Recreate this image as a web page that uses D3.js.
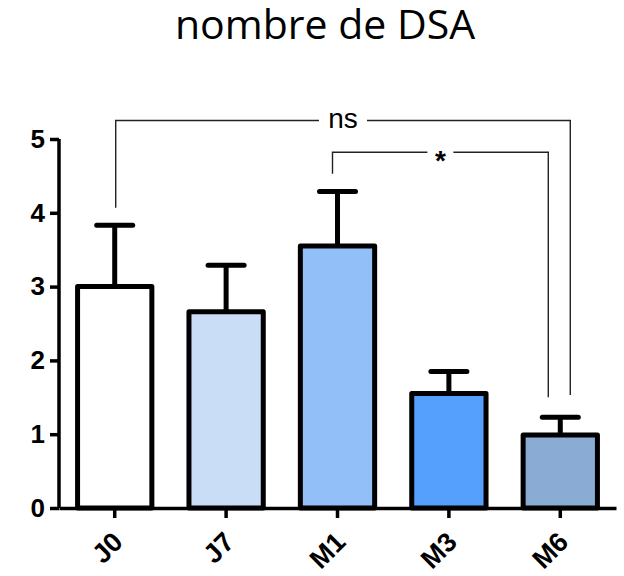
<!DOCTYPE html>
<html>
<head>
<meta charset="utf-8">
<script src="https://cdn.jsdelivr.net/npm/d3@7"></script>
<style>
  body { margin: 0; background: #fff; }
  svg { display: block; }
</style>
</head>
<body>
<div id="chart"></div>
<script>
// DATA
const groups = ["J0", "J7", "M1", "M3", "M6"];
const means = [3.0, 2.66, 3.55, 1.55, 0.99];
const errs = [0.83, 0.63, 0.74, 0.30, 0.24];
const colors = ["#ffffff", "#c9ddf6", "#92bff8", "#55a0fd", "#8aacd4"];
const yTicks = [0, 1, 2, 3, 4, 5];

// comparisons: bracket top value, where each leg stops, small x offsets
const comps = [
  { a: "J0", b: "M6", label: "ns", top: 5.25, aEnd: 4.07, bEnd: 1.53, da: 1, db: 10 },
  { a: "M1", b: "M6", label: "*", top: 4.82, aEnd: 4.53, bEnd: 1.50, da: -5, db: -12 }
];

const width = 624, height = 576;
const margin = { top: 139, bottom: 68, left: 59, right: 8 };

const svg = d3.select("#chart").append("svg")
  .attr("width", width)
  .attr("height", height);

const x = d3.scaleBand()
  .domain(groups)
  .range([margin.left, width - margin.right])
  .paddingInner(0.333)
  .paddingOuter(0.1667);

const y = d3.scaleLinear()
  .domain([0, 5])
  .range([height - margin.bottom, margin.top]);

// title
svg.append("text")
  .attr("x", 325)
  .attr("y", 39)
  .attr("text-anchor", "middle")
  .attr("font-family", "'Open Sans', sans-serif")
  .attr("font-size", 41)
  .attr("fill", "#000")
  .text("nombre de DSA");

// error bars (upper only)
const eb = svg.append("g").attr("stroke", "#000").attr("stroke-width", 5);
groups.forEach((g, i) => {
  const cx = x(g) + x.bandwidth() / 2;
  eb.append("line")
    .attr("x1", cx).attr("x2", cx)
    .attr("y1", y(means[i])).attr("y2", y(means[i] + errs[i]));
  eb.append("line")
    .attr("x1", cx - 18).attr("x2", cx + 18)
    .attr("y1", y(means[i] + errs[i])).attr("y2", y(means[i] + errs[i]))
    .attr("stroke-linecap", "round");
});

// bars
svg.append("g")
  .selectAll("rect")
  .data(groups)
  .join("rect")
  .attr("x", d => x(d))
  .attr("y", (d, i) => y(means[i]))
  .attr("width", x.bandwidth())
  .attr("height", (d, i) => y(0) - y(means[i]))
  .attr("fill", (d, i) => colors[i])
  .attr("stroke", "#000")
  .attr("stroke-width", 5)
  .attr("stroke-linejoin", "round");

// y axis
const yAxis = svg.append("g")
  .attr("transform", `translate(${margin.left},0)`)
  .call(d3.axisLeft(y).tickValues(yTicks).tickFormat(d3.format("d")).tickSize(9).tickPadding(5));
yAxis.select(".domain").attr("stroke-width", 3.5).attr("d", `M0,${y(5)}V${y(0)}`);
yAxis.selectAll(".tick line").attr("stroke-width", 3.5);
yAxis.selectAll(".tick text")
  .attr("font-family", "'Liberation Sans', Arial, sans-serif")
  .attr("font-weight", "bold")
  .attr("font-size", 26)
  .attr("fill", "#000");

// x axis
const xAxis = svg.append("g")
  .attr("transform", `translate(0,${y(0)})`)
  .call(d3.axisBottom(x).tickSize(10).tickSizeOuter(0));
xAxis.select(".domain").attr("stroke-width", 3.5);
xAxis.selectAll(".tick line").attr("stroke-width", 3.5);
xAxis.selectAll(".tick text")
  .attr("font-family", "'Liberation Sans', Arial, sans-serif")
  .attr("font-weight", "bold")
  .attr("font-size", 27)
  .attr("fill", "#000")
  .attr("text-anchor", "end")
  .attr("y", 0)
  .attr("dy", "0.35em")
  .attr("transform", "translate(3,29) rotate(-45)");

// significance brackets
comps.forEach(c => {
  const xa = x(c.a) + x.bandwidth() / 2 + c.da;
  const xb = x(c.b) + x.bandwidth() / 2 + c.db;
  const yt = y(c.top);
  const mid = (xa + xb) / 2;
  const gap = c.label === "ns" ? 24 : 13;
  const g = svg.append("g")
    .attr("fill", "none")
    .attr("stroke", "#222")
    .attr("stroke-width", 1.4);
  g.append("path").attr("d", `M${xa},${y(c.aEnd)}V${yt}H${mid - gap}`);
  g.append("path").attr("d", `M${mid + gap},${yt}H${xb}V${y(c.bEnd)}`);
  svg.append("text")
    .attr("x", mid)
    .attr("y", yt)
    .attr("dy", c.label === "ns" ? "0.25em" : "0.62em")
    .attr("text-anchor", "middle")
    .attr("font-family", "'Liberation Sans', Arial, sans-serif")
    .attr("font-size", 28)
    .attr("font-weight", c.label === "*" ? "bold" : "normal")
    .attr("fill", "#000")
    .text(c.label);
});
</script>
</body>
</html>
